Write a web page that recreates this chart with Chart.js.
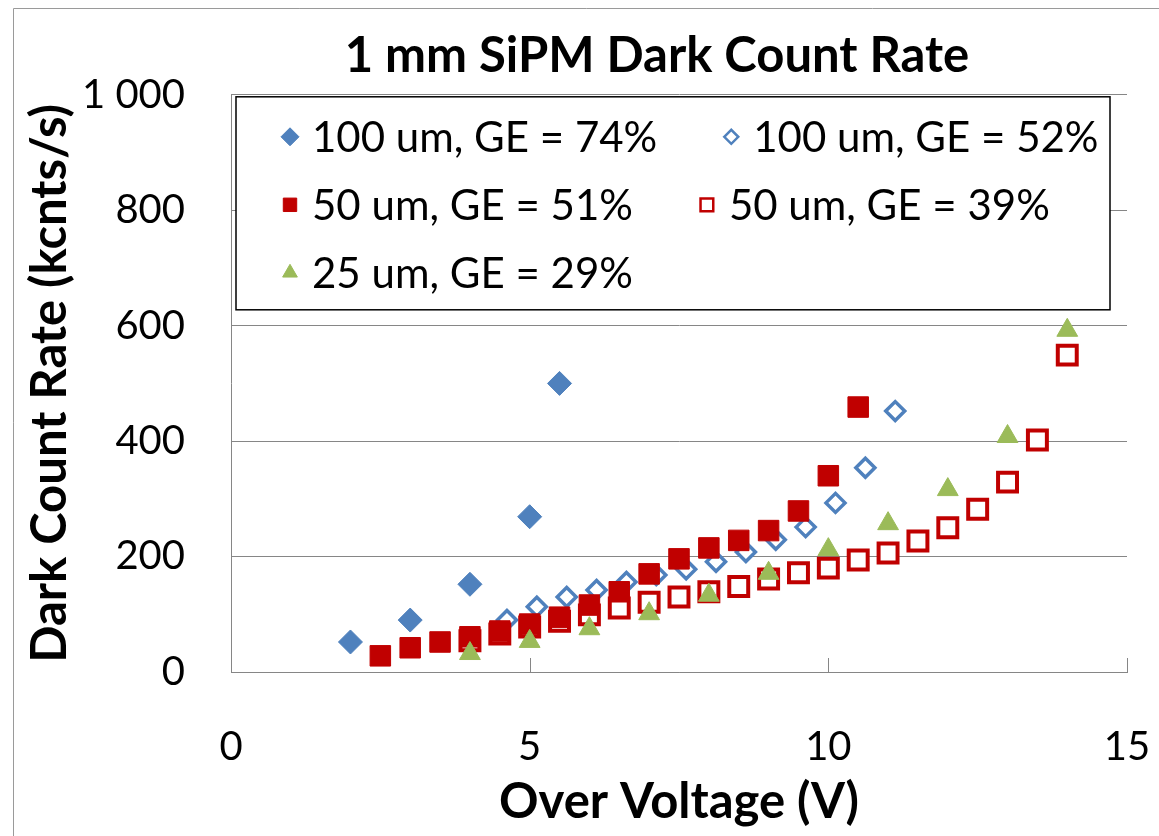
<!DOCTYPE html>
<html>
<head>
<meta charset="utf-8">
<script src="https://cdn.jsdelivr.net/npm/chart.js@4.4.1/dist/chart.umd.min.js"></script>
<style>
  html, body { margin: 0; padding: 0; background: #fff; }
  #wrap { position: relative; width: 1159px; height: 836px; }
</style>
</head>
<body>
<div id="wrap"><canvas id="dcrChart" width="1159" height="836"></canvas></div>
<script>
// series labels, in legend order
const seriesLabels = [
  '100 um, GE = 74%',
  '100 um, GE = 52%',
  '50 um, GE = 51%',
  '50 um, GE = 39%',
  '25 um, GE = 29%'
];

// over voltage (V) and dark count rate (kcnts/s)
const v100a = [2, 3, 4, 5, 5.5];
const dcr100a = [52, 90, 152, 269, 500];

const v100b = [4.62, 5.12, 5.62, 6.12, 6.62, 7.12, 7.62, 8.12, 8.62, 9.12, 9.62, 10.12, 10.62, 11.12];
const dcr100b = [90, 113, 130, 142, 156, 168, 178, 191, 208, 229, 251, 293, 354, 452];

const v50a = [2.5, 3, 3.5, 4, 4.5, 5, 5.5, 6, 6.5, 7, 7.5, 8, 8.5, 9, 9.5, 10, 10.5];
const dcr50a = [28, 42, 52, 61, 71, 83, 95, 116, 139, 170, 196, 215, 228, 245, 279, 340, 459];

const v50b = [4, 4.5, 5, 5.5, 6, 6.5, 7, 7.5, 8, 8.5, 9, 9.5, 10, 10.5, 11, 11.5, 12, 12.5, 13, 13.5, 14];
const dcr50b = [54, 66, 78, 88, 99, 111, 121, 130, 139, 148, 161, 172, 180, 194, 206, 227, 250, 282, 329, 402, 549];

const v25 = [4, 5, 6, 7, 8, 9, 10, 11, 12, 13, 14];
const dcr25 = [32, 53, 75, 101, 133, 171, 212, 257, 316, 408, 592];

// axis tick labels
const xTickLabels = ['0', '5', '10', '15'];
const yTickLabels = ['0', '200', '400', '600', '800', '1 000'];

const BLUE = '#4F81BD';
const RED = '#C00000';
const GREEN = '#9BBB59';
const GRID = '#868686';

const toPts = (xs, ys) => xs.map((x, i) => ({ x: x, y: ys[i] }));

Chart.defaults.font.family = 'Lato, "Open Sans", sans-serif';
Chart.defaults.color = '#000';

// small legend markers (same look as the plot markers, smaller)
const legendMarks = [
  { pointStyle: 'rectRot', radius: 9, borderWidth: 1, fill: BLUE, stroke: BLUE },
  { pointStyle: 'rectRot', radius: 7, borderWidth: 2.5, fill: '#fff', stroke: BLUE },
  { pointStyle: 'rect', radius: 9.5, borderWidth: 1, fill: RED, stroke: RED },
  { pointStyle: 'rect', radius: 9, borderWidth: 2.5, fill: '#fff', stroke: RED },
  { pointStyle: 'triangle', radius: 8.5, borderWidth: 1, fill: GREEN, stroke: GREEN }
];

// legend drawn inside the plot area, boxed, items flowing left to right
const boxLegend = {
  id: 'boxLegend',
  afterDatasetsDraw(chart) {
    const ctx = chart.ctx;
    const ca = chart.chartArea;
    const left = ca.left + 5, top = ca.top + 2, right = ca.right - 17, bottom = ca.top + 215;
    ctx.save();
    ctx.fillStyle = '#fff';
    ctx.fillRect(left, top, right - left, bottom - top);
    ctx.strokeStyle = '#000';
    ctx.lineWidth = 1.5;
    ctx.strokeRect(left, top, right - left, bottom - top);

    ctx.font = '42px Lato, "Open Sans", sans-serif';
    ctx.textBaseline = 'middle';
    ctx.textAlign = 'left';
    let cx = left + 42;
    let cy = top + 40;
    const rowH = 68;
    seriesLabels.forEach((lab, i) => {
      const w = 34 + ctx.measureText(lab).width;
      if (cx + w > right - 5) {
        cx = left + 42;
        cy += rowH;
      }
      const m = legendMarks[i];
      ctx.fillStyle = m.fill;
      ctx.strokeStyle = m.stroke;
      ctx.lineWidth = m.borderWidth;
      Chart.helpers.drawPoint(ctx, { pointStyle: m.pointStyle, radius: m.radius, borderWidth: m.borderWidth, rotation: 0 }, cx + 12, cy);
      ctx.fillStyle = '#000';
      ctx.fillText(lab, cx + 34, cy + 2);
      cx += w + 62;
    });
    ctx.restore();
  }
};

// Excel-style tick marks pointing into the plot on the x axis
const innerTicks = {
  id: 'innerTicks',
  beforeDatasetsDraw(chart) {
    const { ctx, chartArea } = chart;
    const xs = chart.scales.x;
    ctx.save();
    ctx.strokeStyle = GRID;
    ctx.lineWidth = 1;
    xs.ticks.forEach(t => {
      const px = Math.round(xs.getPixelForValue(t.value)) + 0.5;
      ctx.beginPath();
      ctx.moveTo(px, chartArea.bottom);
      ctx.lineTo(px, chartArea.bottom - 14);
      ctx.stroke();
    });
    ctx.restore();
  }
};

// thin outer frame and title nudge
const frame = {
  id: 'frame',
  afterLayout(chart) {
    const tb = chart.titleBlock;
    if (tb) tb.left = 2 * 657 - tb.right;
  },
  beforeDraw(chart) {
    const ctx = chart.ctx;
    ctx.save();
    ctx.fillStyle = '#fff';
    ctx.fillRect(0, 0, chart.width, chart.height);
    ctx.strokeStyle = '#9a9a9a';
    ctx.lineWidth = 1;
    ctx.beginPath();
    ctx.moveTo(13.5, chart.height);
    ctx.lineTo(13.5, 8.5);
    ctx.lineTo(chart.width, 8.5);
    ctx.stroke();
    ctx.restore();
  }
};

const dcrData = {
  datasets: [
    {
      label: seriesLabels[0],
      data: toPts(v100a, dcr100a),
      pointStyle: 'rectRot',
      pointRadius: 12,
      pointBorderWidth: 1,
      backgroundColor: BLUE,
      borderColor: BLUE,
      order: 4
    },
    {
      label: seriesLabels[1],
      data: toPts(v100b, dcr100b),
      pointStyle: 'rectRot',
      pointRadius: 9.5,
      pointBorderWidth: 3.5,
      backgroundColor: '#fff',
      borderColor: BLUE,
      order: 3
    },
    {
      label: seriesLabels[2],
      data: toPts(v50a, dcr50a),
      pointStyle: 'rect',
      pointRadius: 14.5,
      pointBorderWidth: 1,
      backgroundColor: RED,
      borderColor: RED,
      order: 1
    },
    {
      label: seriesLabels[3],
      data: toPts(v50b, dcr50b),
      pointStyle: 'rect',
      pointRadius: 13.4,
      pointBorderWidth: 4,
      backgroundColor: '#fff',
      borderColor: RED,
      order: 2
    },
    {
      label: seriesLabels[4],
      data: toPts(v25, dcr25),
      pointStyle: 'triangle',
      pointRadius: 12,
      pointBorderWidth: 1,
      backgroundColor: GREEN,
      borderColor: GREEN,
      order: 0
    }
  ]
};

const dcrConfig = {
  type: 'scatter',
  data: dcrData,
  options: {
    responsive: false,
    animation: false,
    devicePixelRatio: 1,
    layout: { padding: { left: 0, right: 32, top: 0, bottom: 0 } },
    plugins: {
      legend: { display: false },
      tooltip: { enabled: false },
      title: {
        display: true,
        text: '1 mm SiPM Dark Count Rate',
        color: '#000',
        font: { size: 49, weight: 'bold' },
        padding: { top: 27, bottom: 9 }
      }
    },
    scales: {
      x: {
        type: 'linear',
        min: 0,
        max: 15,
        ticks: {
          stepSize: 5,
          padding: 3,
          color: '#000',
          // tall line box pushes the labels well below the axis without widening the side padding
          font: { size: 40, lineHeight: 3.6 },
          callback: (v, i) => xTickLabels[i]
        },
        grid: { display: false, drawTicks: false },
        border: { display: true, color: GRID, width: 1 },
        title: {
          display: true,
          text: 'Over Voltage (V)',
          color: '#000',
          font: { size: 49, weight: 'bold' },
          padding: { top: 0, bottom: 4 }
        },
        afterFit: (s) => { s.height = 164; }
      },
      y: {
        type: 'linear',
        min: 0,
        max: 1000,
        ticks: {
          stepSize: 200,
          padding: 46,
          color: '#000',
          font: { size: 40 },
          callback: (v, i) => yTickLabels[i]
        },
        grid: { color: GRID, lineWidth: 1, drawTicks: false },
        border: { display: true, color: GRID, width: 1 },
        title: {
          display: true,
          text: 'Dark Count Rate (kcnts/s)',
          color: '#000',
          font: { size: 49, weight: 'bold' },
          padding: { top: 21, bottom: 0 }
        },
        afterFit: (s) => { s.width = 231; }
      }
    }
  },
  plugins: [frame, innerTicks, boxLegend]
};

const dcrctx = document.getElementById('dcrChart');
new Chart(dcrctx, dcrConfig);
</script>
</body>
</html>
